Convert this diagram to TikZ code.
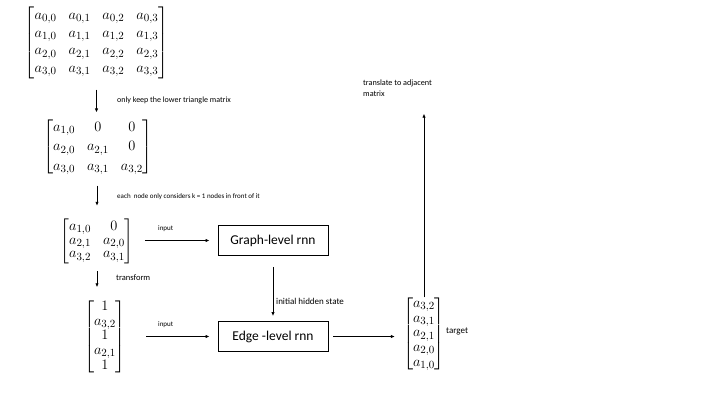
\documentclass[tikz,border=0pt]{standalone}
\usepackage{amsmath,amssymb}
\usepackage{fontspec}
\setmainfont{Carlito}
\usepackage{tikz}
\usetikzlibrary{arrows.meta,positioning}
\definecolor{ink}{HTML}{000000}
\definecolor{paper}{HTML}{FFFFFF}
\tikzset{
  flowarr/.style={-{Latex[length=4pt,width=3.4pt]},line width=0.8pt,color=ink},
  rnnbox/.style={draw=ink,line width=0.9pt,minimum width=110pt,minimum height=30pt,inner sep=0pt,font=\fontsize{13.5}{15}\selectfont},
  matnode/.style={inner sep=0pt,font=\fontsize{15}{17}\selectfont},
  tinylabel/.style={inner sep=0pt,align=left,font=\fontsize{7}{10.5}\selectfont}
}
\begin{document}
\begin{tikzpicture}[x=1pt,y=-1pt,>=Latex]
  \fill[paper] (0,0) rectangle (720,405);
  \useasboundingbox (0,0) rectangle (720,405);
  % matrices
  \node[matnode] (full) at (96.5,42.5)
    {$\def\arraystretch{1.04}\arraycolsep=6pt\begin{bmatrix}
      a_{0,0} & a_{0,1} & a_{0,2} & a_{0,3}\\
      a_{1,0} & a_{1,1} & a_{1,2} & a_{1,3}\\
      a_{2,0} & a_{2,1} & a_{2,2} & a_{2,3}\\
      a_{3,0} & a_{3,1} & a_{3,2} & a_{3,3}
    \end{bmatrix}$};
  \node[matnode] (lower) at (98,147)
    {$\def\arraystretch{1.15}\arraycolsep=6pt\begin{bmatrix}
      a_{1,0} & 0 & 0\\
      a_{2,0} & a_{2,1} & 0\\
      a_{3,0} & a_{3,1} & a_{3,2}
    \end{bmatrix}$};
  \node[matnode] (kband) at (97,241.5)
    {$\def\arraystretch{0.8}\arraycolsep=6pt\begin{bmatrix}
      a_{1,0} & 0\\
      a_{2,1} & a_{2,0}\\
      a_{3,2} & a_{3,1}
    \end{bmatrix}$};
  \node[matnode] (seq) at (105,337)
    {$\def\arraystretch{0.86}\begin{bmatrix}
      1\\ a_{3,2}\\ 1\\ a_{2,1}\\ 1
    \end{bmatrix}$};
  \node[matnode] (target) at (424,334)
    {$\def\arraystretch{0.86}\arraycolsep=2pt\begin{bmatrix}
      a_{3,2}\\ a_{3,1}\\ a_{2,1}\\ a_{2,0}\\ a_{1,0}
    \end{bmatrix}$};
  % rnn boxes
  \node[rnnbox] (graphrnn) at (273,240.5) {Graph-level rnn};
  \node[rnnbox] (edgernn) at (273,336.5) {Edge -level rnn};
  % labels
  \node[tinylabel,anchor=west,font=\fontsize{8}{10}\selectfont] (keeplbl) at (117,100) {only keep the lower triangle matrix};
  \node[tinylabel,anchor=west] (kndlbl) at (117,197) {each\ \ node only considers k = 1 nodes in front of it};
  \node[tinylabel,anchor=west] (in1lbl) at (158,229) {input};
  \node[tinylabel,anchor=west,font=\fontsize{8.5}{10}\selectfont] (trflbl) at (116,278) {transform};
  \node[tinylabel,anchor=west] (in2lbl) at (158,325) {input};
  \node[tinylabel,anchor=west,font=\fontsize{9}{10}\selectfont] (hidlbl) at (276,301) {initial hidden state};
  \node[tinylabel,anchor=west,font=\fontsize{9}{10}\selectfont] (tgtlbl) at (446,331) {target};
  \node[tinylabel,anchor=north west,font=\fontsize{8.2}{10.5}\selectfont] (adjlbl) at (363,80) {translate to adjacent\\matrix};
  % connectors
  \draw[flowarr,shorten <=11pt,shorten >=5pt] (full.south) -- (full.south |- lower.north);
  \draw[flowarr,shorten <=9pt,shorten >=13pt] (kband.north |- lower.south) -- (kband.north);
  \draw[flowarr,shorten <=7pt,shorten >=13pt] (kband.south) -- (kband.south |- seq.north);
  \draw[flowarr,shorten <=11pt,shorten >=8pt] (kband.east |- graphrnn.west) -- (graphrnn.west);
  \draw[flowarr,shorten <=20pt,shorten >=8pt] (seq.east |- edgernn.west) -- (edgernn.west);
  \draw[flowarr,shorten <=11pt,shorten >=5pt] (graphrnn.south) -- (edgernn.north);
  \draw[flowarr,shorten <=5pt,shorten >=8pt] (edgernn.east) -- (target.west |- edgernn.east);
  \draw[flowarr,shorten >=17pt] (target.north) -- (target.north |- adjlbl.south);
\end{tikzpicture}
\end{document}
